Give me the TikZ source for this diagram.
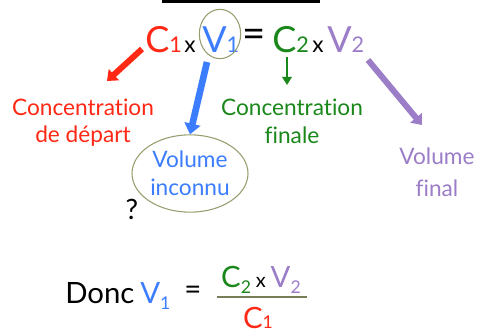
\documentclass[tikz,border=0pt]{standalone}
\usepackage{fontspec}
\setmainfont{Lato}[Ligatures={NoCommon,NoDiscretionary}]
\usetikzlibrary{arrows.meta,positioning,shapes.geometric}
\definecolor{cred}{RGB}{255,40,20}
\definecolor{cblue}{RGB}{60,125,255}
\definecolor{cgreen}{RGB}{25,135,25}
\definecolor{cpurple}{RGB}{155,125,200}
\definecolor{ringcol}{RGB}{150,158,110}
\newcommand{\ix}[1]{\scalebox{0.6}{#1}}
\newcommand{\lx}[1]{\raisebox{-0.22em}{\scalebox{0.6}{#1}}}

\begin{document}
\begin{tikzpicture}[x=0.75pt,y=-0.75pt,
  big/.style={inner sep=0pt,anchor=base west,font=\fontsize{27}{30}\selectfont},
  times/.style={inner sep=0pt,anchor=base,font=\fontsize{17}{20}\selectfont},
  lbl/.style={align=center,inner sep=0pt,font=\fontsize{17}{21}\selectfont},
  mid/.style={inner sep=0pt,font=\fontsize{22}{26}\selectfont},
  fat/.style={line width=4.5pt,-{Triangle[width=11pt,length=7pt]}}]
\useasboundingbox (0,0) rectangle (477,334);
\fill (162,0) rectangle (320,3);
% top line
\node[big,cred] (c1) at (145,53) {C\ix{1}};
\node[times] (x1) at (190,53) {x};
\node[big,cblue] (v1) at (202,53) {V\ix{1}};
\node[big,anchor=center,font=\fontsize{30}{32}\selectfont] (eq) at (254,38) {=};
\node[big,cgreen] (c2) at (272,53) {C\ix{2}};
\node[times] (x2) at (318,53) {x};
\node[big,cpurple] (v2) at (327,53) {V\ix{2}};
\node[draw=ringcol,thick,ellipse,minimum width=31pt,minimum height=37pt] (ring) at (220,34) {};
% labels
\node[lbl,cred,font=\fontsize{17}{20}\selectfont] (depart) at (83,123) {Concentration\\de départ};
\node[lbl,cgreen] (finale) at (292,121) {Concentration\\finale};
\node[lbl,cpurple,font=\fontsize{17}{24}\selectfont] (vfinal) at (437,172) {Volume\\final};
\node[lbl,cblue,draw=ringcol,thick,ellipse,minimum width=87pt,minimum height=58pt] (unknown) at (190,173.5) {Volume\\inconnu};
\node[lbl,font=\fontsize{21}{24}\selectfont] (what) at (132,209) {?};
% arrows
\coordinate (r0) at (142,49);
\coordinate (r1) at (107,81);
\coordinate (b0) at (207,62);
\coordinate (g0) at (287,57);
\coordinate (g1) at (287,85);
\coordinate (p0) at (368,60);
\coordinate (p1) at (422,125);
\draw[fat,cred] (r0) -- (r1);
\draw[fat,cblue,line width=5pt,-{Triangle[width=12pt,length=8pt]}] (b0) -- (unknown.north);
\draw[cgreen,line width=2.2pt,-{Triangle[width=7pt,length=6pt]}] (g0) -- (g1);
\draw[fat,cpurple] (p0) -- (p1);
% bottom line
\node[mid,anchor=base west] (donc) at (65,303) {Donc};
\node[mid,anchor=base west,cblue] (v1b) at (140,303) {V\lx{1}};
\node[mid] (eqb) at (193,293) {=};
\node[mid,anchor=base] (num) at (261,287) {{\color{cgreen}C\lx{2}}\,{\fontsize{15}{18}\selectfont x}\,{\color{cpurple}V\lx{2}}};
\node[mid,anchor=base,cred] (den) at (258,328) {C\ix{1}};
\coordinate (barl) at (217,297);
\coordinate (barr) at (307,297);
\draw[ringcol!80!black,line width=1.5pt] (barl) -- (barr);
\end{tikzpicture}
\end{document}
